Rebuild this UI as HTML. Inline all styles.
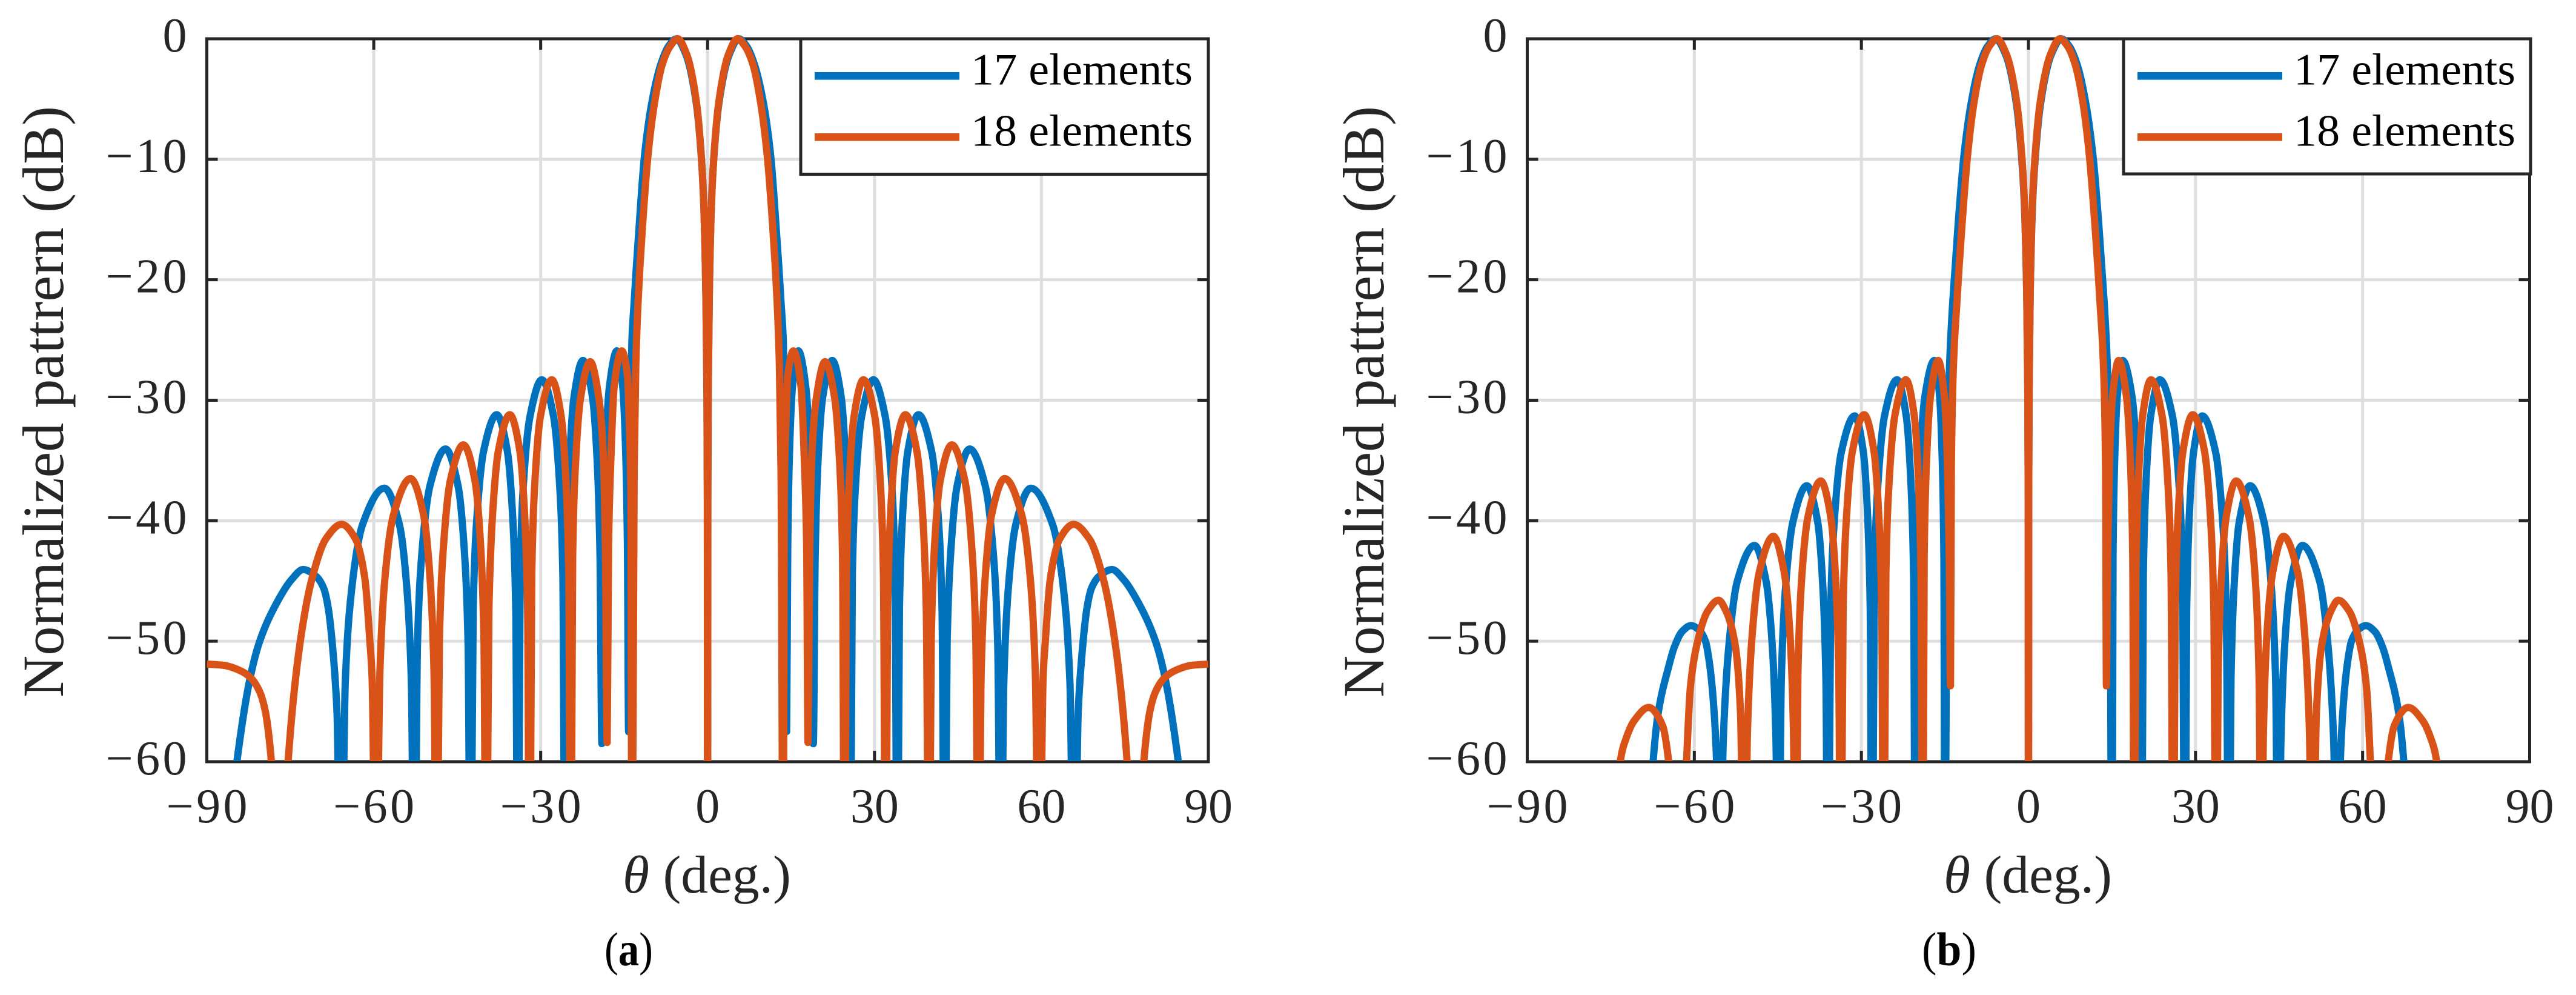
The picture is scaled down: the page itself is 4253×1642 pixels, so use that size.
<!DOCTYPE html>
<html lang="en">
<head>
<meta charset="utf-8">
<title>Normalized patterns for 17 and 18 elements</title>
<style>
html,body{margin:0;padding:0;background:#fff;width:4253px;height:1642px;overflow:hidden}
svg{display:block;font-family:"Liberation Serif",serif}
</style>
</head>
<body>
<svg id="figure" xmlns="http://www.w3.org/2000/svg" width="4253" height="1642" viewBox="0 0 4253 1642"></svg>
<script>
// Shared tick labels (values printed on the axes)
const xTicks = [-90, -60, -30, 0, 30, 60, 90];
const yTicks = [0, -10, -20, -30, -40, -50, -60];

// Series names
const seriesNames = ['17 elements', '18 elements'];

// Panel (a) – half pattern read for theta >= 0 (the pattern is symmetric about 0)
const thetaA17 = [0,.04,.12,.3,.7,1.1,2.05,3.9,5.6,7,8.43,10.1,11.4,12.3,12.8,13.2,13.6,13.9,14.2,
14.41,14.73,15.25,16.3,17.65,18.33,18.73,19,
19.34,19.85,20.7,22.4,24,24.8,25.28,25.6,
26.02,26.65,27.7,29.8,31.9,33.05,33.68,34.1,
34.48,35.05,36,37.9,40.25,41.43,42.13,42.6,
43.05,43.73,44.85,47.1,49.9,51.3,52.14,52.7,
53.24,54.05,55.4,58.1,62,63.95,65.12,65.9,
66.6,67.3,68.2,69,70.4,72.7,74.8,77.3,80.5,82.2,84.6,86,87];
const dbA17 = [-75,-38,-29,-21.5,-13.6,-10,-5.3,-1.3,0,-.6,-2.15,-5.5,-10,-15.55,-18.9,-21.9,-25,-33,-57.5,
-42,-34.2,-28.9,-25.9,-28.9,-34.2,-42,-58.5,
-42.8,-35,-29.7,-26.7,-29.7,-35,-42.8,-75,
-44.4,-36.6,-31.3,-28.3,-31.3,-36.6,-44.4,-75,
-47.3,-39.5,-34.2,-31.2,-34.2,-39.5,-47.3,-75,
-50.2,-42.4,-37.1,-34.05,-37.1,-42.4,-50.2,-75,
-53.4,-45.6,-40.3,-37.3,-40.3,-45.6,-53.4,-75,
-56,-51,-47.2,-45.6,-44.6,-44.05,-44.9,-46.7,-50,-53,-60,-66,-75];

const thetaA18 = [0,.04,.12,.3,.7,1.1,2,3.75,5.38,6.7,8.16,9.6,10.78,11.7,12.16,12.5,12.9,13.2,13.6,
13.78,14.06,14.4,15.43,16.8,17.35,17.8,18.05,
18.35,18.75,19.55,21.1,22.83,23.72,24.25,24.6,
24.95,25.47,26.33,28,30.03,31.02,31.6,32,
32.35,32.88,33.75,35.55,37.6,38.65,39.3,39.8,
40.2,40.8,41.8,43.9,46.25,47.45,48.2,48.7,
49.17,49.88,51.05,53.4,56.45,58,58.9,59.6,
60.3,60.7,61.6,63.3,65.8,68.6,71.1,73.2,75.4,76.9,
78.4,79.5,80.5,82.2,84.2,87,90];
const dbA18 = [-75,-38,-29,-21.5,-13.6,-10,-5.3,-1.3,0,-.6,-2.15,-5.5,-10,-15.55,-18.9,-21.9,-27,-36,-75,
-38,-32,-28,-25.9,-28.9,-34.5,-42,-58.4,
-42.9,-34.5,-29.8,-26.8,-29.8,-35.1,-42.9,-75,
-44.4,-36.6,-31.3,-28.3,-31.3,-36.6,-44.4,-75,
-47.3,-39.5,-34.2,-31.2,-34.2,-39.5,-47.3,-75,
-49.8,-42,-36.7,-33.7,-36.7,-42,-49.8,-75,
-52.6,-44.8,-39.5,-36.5,-39.5,-44.8,-52.6,-75,
-53,-50,-44.8,-41.5,-40.3,-41.5,-44.8,-50,-60,-75,
-60,-55.8,-54.2,-53,-52.4,-52,-51.9];

// Panel (b) – half pattern read for theta >= 0
const thetaB17 = [0,.04,.12,.3,.75,1.2,2.2,4.1,5.9,7.3,8.75,10.35,11.65,12.65,13.15,13.6,14,14.3,14.6,15,
15.19,15.48,15.95,16.9,18.6,19.45,19.96,20.3,
20.63,21.13,21.95,23.6,25.85,26.98,27.65,28.1,
28.41,28.88,29.65,31.2,33.6,34.8,35.52,36,
36.37,36.93,37.85,39.8,42.3,43.6,44.38,44.9,
45.34,46,47.1,49.2,52.3,53.8,54.8,55.5,
56,56.5,57.2,58,59.3,60.6,62.2,63.6,64.6,66.5,67.4,69];
const dbB17 = [-75,-38,-29,-21.5,-13.6,-10,-5.3,-1.3,0,-.6,-2.15,-5.5,-10,-15.55,-18.9,-21.9,-25.3,-29,-36,-75,
-42.8,-35,-29.7,-26.7,-29.7,-35,-42.8,-75,
-44.4,-36.6,-31.3,-28.3,-31.3,-36.6,-44.4,-75,
-47.4,-39.6,-34.3,-31.3,-34.3,-39.6,-47.4,-75,
-53.2,-45.4,-40.1,-37.1,-40.1,-45.4,-53.2,-75,
-58.2,-50.4,-45.05,-42.05,-45.05,-50.4,-58.2,-75,
-60,-55.5,-52.1,-50,-49,-48.7,-49.2,-50.5,-52.1,-56,-60,-75];

const thetaB18 = [0,.04,.12,.3,.72,1.15,2.1,3.95,5.65,7,8.4,9.85,11,11.95,12.45,12.85,13.3,13.6,13.85,14,
14.22,14.55,15.1,16.2,17.6,18.3,18.72,19,
19.3,19.75,20.5,22,24,25,25.6,26,
26.35,26.88,27.75,29.5,31.6,32.65,33.28,33.7,
34.06,34.6,35.5,37.3,39.6,40.75,41.4,41.8,
42.2,42.8,43.85,45.8,48.35,49.63,50.45,51,
51.7,52.6,54.3,55.65,57.6,59.5,60.7,61.4,62.7,
64.6,65.7,68.2,70.8,72.2,73.3,74.5];
const dbB18 = [-75,-38,-29,-21.5,-13.6,-10,-5.3,-1.3,0,-.6,-2.15,-5.5,-10,-15.55,-18.9,-21.9,-25.3,-29,-36,-53.7,
-42.8,-35,-29.7,-26.7,-29.7,-35,-42.8,-75,
-44.4,-36.6,-31.3,-28.3,-31.3,-36.6,-44.4,-75,
-47.3,-39.5,-34.2,-31.2,-34.2,-39.5,-47.3,-75,
-52.8,-45,-39.7,-36.7,-39.7,-45,-52.8,-75,
-57.4,-49.6,-44.3,-41.3,-44.3,-49.6,-57.4,-75,
-56,-50.5,-47.5,-46.6,-47.5,-50.2,-53.8,-60,-75,
-60,-57,-55.5,-56.6,-58,-60,-75];

const NS = 'http://www.w3.org/2000/svg';
const INK = '#262626';
const GRID = '#dedede';
const BLUE = '#0072BD';
const ORANGE = '#D95319';
const fig = document.getElementById('figure');

function mk(parent, tag, attrs) {
  const el = document.createElementNS(NS, tag);
  for (const k in attrs) el.setAttribute(k, attrs[k]);
  parent.appendChild(el);
  return el;
}
function fmt(v) { return v < 0 ? '\u2212' + Math.abs(v) : String(v); }

function mirrored(thetas, dbs) {
  const pts = [];
  for (let i = thetas.length - 1; i > 0; i--) pts.push([-thetas[i], dbs[i]]);
  for (let i = 0; i < thetas.length; i++) pts.push([thetas[i], dbs[i]]);
  return pts;
}
// Shape-preserving curve through the read points (no overshoot at peaks or nulls)
function smoothPath(p) {
  const n = p.length, h = [], s = [], m = [];
  for (let i = 0; i < n - 1; i++) {
    h[i] = Math.max(p[i + 1][0] - p[i][0], 1e-3);
    s[i] = (p[i + 1][1] - p[i][1]) / h[i];
  }
  m[0] = s[0];
  m[n - 1] = s[n - 2];
  for (let i = 1; i < n - 1; i++) {
    if (s[i - 1] * s[i] <= 0) { m[i] = 0; continue; }
    const w1 = 2 * h[i] + h[i - 1], w2 = h[i] + 2 * h[i - 1];
    m[i] = (w1 + w2) / (w1 / s[i - 1] + w2 / s[i]);
  }
  let d = 'M' + p[0][0].toFixed(1) + ' ' + p[0][1].toFixed(1);
  for (let i = 0; i < n - 1; i++) {
    const t = h[i] / 3;
    d += 'C' + (p[i][0] + t).toFixed(2) + ' ' + (p[i][1] + m[i] * t).toFixed(2) + ' ' +
         (p[i + 1][0] - t).toFixed(2) + ' ' + (p[i + 1][1] - m[i + 1] * t).toFixed(2) + ' ' +
         p[i + 1][0].toFixed(2) + ' ' + p[i + 1][1].toFixed(2);
  }
  return d;
}

function drawPanel(cfg) {
  const sx = t => cfg.left + (t + 90) / 180 * (cfg.right - cfg.left);
  const sy = v => cfg.top + (-v) / 60 * (cfg.bottom - cfg.top);

  const g = mk(fig, 'g', {});
  
  

  const clip = mk(g, 'clipPath', { id: 'plot-clip-' + cfg.id });
  mk(clip, 'rect', { x: cfg.left, y: cfg.top - 8, width: cfg.right - cfg.left, height: cfg.bottom - cfg.top + 7 });

  // grid
  xTicks.forEach(t => {
    const l = mk(g, 'line', { x1: sx(t), x2: sx(t), y1: cfg.top, y2: cfg.bottom, stroke: GRID, 'stroke-width': 5 });
    
    
  });
  yTicks.forEach(v => {
    const l = mk(g, 'line', { x1: cfg.left, x2: cfg.right, y1: sy(v), y2: sy(v), stroke: GRID, 'stroke-width': 5 });
    
    
  });

  // ticks
  xTicks.forEach(t => {
    [[cfg.top, cfg.top + 18], [cfg.bottom, cfg.bottom - 18]].forEach(r => {
      const l = mk(g, 'line', { x1: sx(t), x2: sx(t), y1: r[0], y2: r[1], stroke: INK, 'stroke-width': 5 });
      
      
    });
  });
  yTicks.forEach(v => {
    [[cfg.left, cfg.left + 18], [cfg.right, cfg.right - 18]].forEach(r => {
      const l = mk(g, 'line', { x1: r[0], x2: r[1], y1: sy(v), y2: sy(v), stroke: INK, 'stroke-width': 5 });
      
      
    });
  });

  // axes box
  const box = mk(g, 'rect', { x: cfg.left, y: cfg.top, width: cfg.right - cfg.left, height: cfg.bottom - cfg.top, fill: 'none', stroke: INK, 'stroke-width': 5 });
  
  

  // tick labels
  xTicks.forEach(t => {
    const s = fmt(t);
    const el = mk(g, 'text', { x: sx(t), y: cfg.bottom + 100, 'text-anchor': 'middle', 'font-size': 80, fill: INK });
    
    
    if (t < 0) el.setAttribute('textLength', 134);
    el.textContent = s;
  });
  yTicks.forEach(v => {
    const s = fmt(v);
    const el = mk(g, 'text', { x: cfg.left - 33, y: sy(v) + 21, 'text-anchor': 'end', 'font-size': 80, fill: INK });
    
    
    if (v < 0) el.setAttribute('textLength', 134);
    el.textContent = s;
  });

  // axis titles
  const yt = mk(g, 'text', { transform: 'translate(' + cfg.yTitleX + ',663) rotate(-90)', 'text-anchor': 'middle', 'font-size': 96, fill: INK, textLength: 976, lengthAdjust: 'spacingAndGlyphs' });
  
  
  yt.textContent = 'Normalized pattrern (dB)';

  const xt = mk(g, 'text', { x: cfg.xTitleX, y: 1473, 'font-size': 88, fill: INK, textLength: 278, lengthAdjust: 'spacingAndGlyphs' });
  
  
  const th = mk(xt, 'tspan', { 'font-style': 'italic' });
  th.textContent = '\u03b8';
  const rest = mk(xt, 'tspan', {});
  rest.textContent = ' (deg.)';

  // series
  const plot = mk(g, 'g', { 'clip-path': 'url(#plot-clip-' + cfg.id + ')' });
  
  
  cfg.series.forEach(s => {
    const pts = mirrored(s.theta, s.db).map(q => [sx(q[0]), sy(q[1])]);
    const p = mk(plot, 'path', { d: smoothPath(pts), fill: 'none', stroke: s.color, 'stroke-width': 12, 'stroke-linejoin': 'round' });
    
    
  });

  // legend
  const leg = mk(g, 'g', {});
  
  
  const lb = mk(leg, 'rect', { x: cfg.legend.x, y: cfg.top, width: cfg.legend.w, height: cfg.legend.h, fill: '#fff', stroke: INK, 'stroke-width': 5 });
  
  
  cfg.series.forEach((s, i) => {
    const yl = cfg.legend.lineY[i];
    const sw = mk(leg, 'line', { x1: cfg.legend.x + 23, x2: cfg.legend.x + 262, y1: yl, y2: yl, stroke: s.color, 'stroke-width': 12.7 });
    
    
    const tx = mk(leg, 'text', { x: cfg.legend.x + 281, y: yl + 14, 'font-size': 74, fill: '#000', textLength: 366, lengthAdjust: 'spacingAndGlyphs' });
    
    
    tx.textContent = seriesNames[i];
  });

  // caption
  const cap = mk(g, 'text', { x: cfg.capX, y: 1593, 'text-anchor': 'middle', 'font-size': 78, fill: '#000', textLength: cfg.capW, lengthAdjust: 'spacingAndGlyphs' });
  
  
  const c1 = mk(cap, 'tspan', {});
  c1.textContent = '(';
  const c2 = mk(cap, 'tspan', { 'font-weight': 'bold' });
  c2.textContent = cfg.id;
  const c3 = mk(cap, 'tspan', {});
  c3.textContent = ')';
}

drawPanel({
  id: 'a', left: 341.5, right: 1995, top: 64, bottom: 1257,
  yTitleX: 104, xTitleX: 1028, capX: 1038, capW: 80,
  legend: { x: 1322, w: 673, h: 223.5, lineY: [125.3, 226.3] },
  series: [
    { key: '17-elements', color: BLUE, theta: thetaA17, db: dbA17 },
    { key: '18-elements', color: ORANGE, theta: thetaA18, db: dbA18 }
  ]
});
drawPanel({
  id: 'b', left: 2521.5, right: 4176.5, top: 64, bottom: 1257,
  yTitleX: 2284, xTitleX: 3209, capX: 3218, capW: 90,
  legend: { x: 3506, w: 672, h: 223, lineY: [125.3, 226.3] },
  series: [
    { key: '17-elements', color: BLUE, theta: thetaB17, db: dbB17 },
    { key: '18-elements', color: ORANGE, theta: thetaB18, db: dbB18 }
  ]
});
</script>
</body>
</html>
